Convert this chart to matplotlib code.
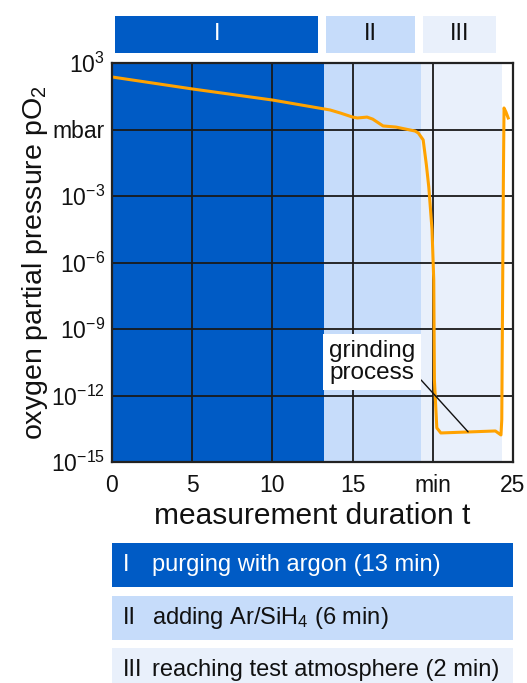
import numpy as np
import matplotlib
matplotlib.use('Agg')
import matplotlib.pyplot as plt
from matplotlib.patches import Rectangle

plt.rcParams['font.family'] = ['Liberation Sans', 'DejaVu Sans']
plt.rcParams['mathtext.fontset'] = 'custom'
plt.rcParams['mathtext.rm'] = 'Liberation Sans'
plt.rcParams['mathtext.it'] = 'Liberation Sans:italic'

# measured pO2 curve (time in min, log10 of pressure in mbar)
t_min = [0.0, 5.0, 10.0, 13.2, 13.6, 14.25, 15.0, 15.3, 15.9, 16.25, 16.9, 17.7, 18.9, 19.1,
         19.4, 19.6, 19.75, 19.95, 20.06, 20.1, 20.25, 20.5, 22.4, 23.9, 24.25, 24.3, 24.35,
         24.4, 24.44, 24.56, 24.7]
log_p = [2.37, 1.83, 1.33, 0.93, 0.88, 0.74, 0.56, 0.52, 0.56, 0.47, 0.16, 0.11, -0.07, -0.16,
         -0.47, -1.6, -2.6, -4.5, -6.8, -11.3, -13.46, -13.69, -13.64, -13.6, -13.78, -13.1, -7.7,
         -2.3, 0.97, 0.79, 0.52]

phase_labels = ['I', 'II', 'III']
phase_start = [0.0, 13.2, 19.25]
phase_end = [13.2, 19.25, 24.3]
phase_colors = ['#005bc5', '#c6dcfa', '#e9f0fb']
phase_text_colors = ['white', '#111111', '#111111']
phase_desc = ['purging with argon (13 min)', 'adding Ar/SiH$_4$ (6 min)',
              'reaching test atmosphere (2 min)']

y_ticks = [3, 0, -3, -6, -9, -12, -15]
y_ticklabels = ['$10^{3}$', 'mbar', '$10^{-3}$', '$10^{-6}$', '$10^{-9}$', '$10^{-12}$', '$10^{-15}$']
x_ticks = [0, 5, 10, 15, 20, 25]
x_ticklabels = ['0', '5', '10', '15', 'min', '25']

W, H = 527, 683
fig = plt.figure(figsize=(W / 100, H / 100), dpi=100)

ax = fig.add_axes([112 / W, 1 - 462 / H, 401 / W, 399 / H])
for s, e, c in zip(phase_start, phase_end, phase_colors):
    ax.axvspan(s, e, color=c, lw=0, zorder=0)
ax.set_yscale('log')
ax.set_xlim(0, 25)
ax.set_ylim(1e-15, 1e3)
ax.set_yticks([10.0 ** k for k in y_ticks])
ax.set_yticklabels(y_ticklabels)
ax.minorticks_off()
ax.set_xticks(x_ticks)
ax.set_xticklabels(x_ticklabels)
ax.tick_params(length=0, labelsize=16.5, colors='#111111')
ax.tick_params(axis='x', pad=9)
ax.tick_params(axis='y', pad=5)
ax.grid(True, color='#1a1a1a', lw=1.3)
ax.set_axisbelow(True)
for sp in ax.spines.values():
    sp.set_linewidth(1.6)
    sp.set_color('#222222')
    sp.set_zorder(5)

ax.plot(t_min, [10.0 ** v for v in log_p], color='#ffa200', lw=2.2, zorder=3,
        solid_joinstyle='round')

ax.annotate('grinding\nprocess', xy=(22.2, 10 ** -13.64), xytext=(16.2, 10 ** -10.5),
            ha='center', va='center', fontsize=17.5, color='#111111', linespacing=1.0,
            bbox=dict(boxstyle='square,pad=0.25', fc='white', ec='none'),
            arrowprops=dict(arrowstyle='-', color='#111111', lw=1.0, relpos=(1.0, 0.25),
                            shrinkA=0, shrinkB=0), zorder=4)

ax.set_xlabel('measurement duration t', fontsize=21.5, labelpad=3, color='#111111')
ax.set_ylabel('oxygen partial pressure pO$_2$', fontsize=20.5, labelpad=1, color='#111111')

# phase bar on top
axt = fig.add_axes([112 / W, 1 - 53 / H, 401 / W, 37 / H])
axt.set_xlim(0, 25)
axt.set_ylim(0, 1)
axt.axis('off')
for lab, s, e, c, tc in zip(phase_labels, phase_start, phase_end, phase_colors, phase_text_colors):
    s_in = s + 0.2 if s == 0 else s + 0.15
    e_in = e - 0.35
    axt.add_patch(Rectangle((s_in, 0), e_in - s_in, 1, fc=c, ec='none'))
    axt.text((s_in + e_in) / 2, 0.5, lab, ha='center', va='center', fontsize=17, color=tc)

# legend boxes at the bottom
axl = fig.add_axes([112 / W, 0, 401 / W, 140 / H])
axl.set_xlim(112, 513)
axl.set_ylim(683, 543)
axl.axis('off')
box_tops = [543, 596, 648]
for lab, desc, c, tc, top in zip(phase_labels, phase_desc, phase_colors, phase_text_colors, box_tops):
    axl.add_patch(Rectangle((112, top), 401, 44, fc=c, ec='none', clip_on=False))
    axl.text(123, top + 22, lab, ha='left', va='center', fontsize=17, color=tc)
    axl.text(152, top + 22, desc, ha='left', va='center', fontsize=17, color=tc)

fig.savefig('out.png', dpi=100)
